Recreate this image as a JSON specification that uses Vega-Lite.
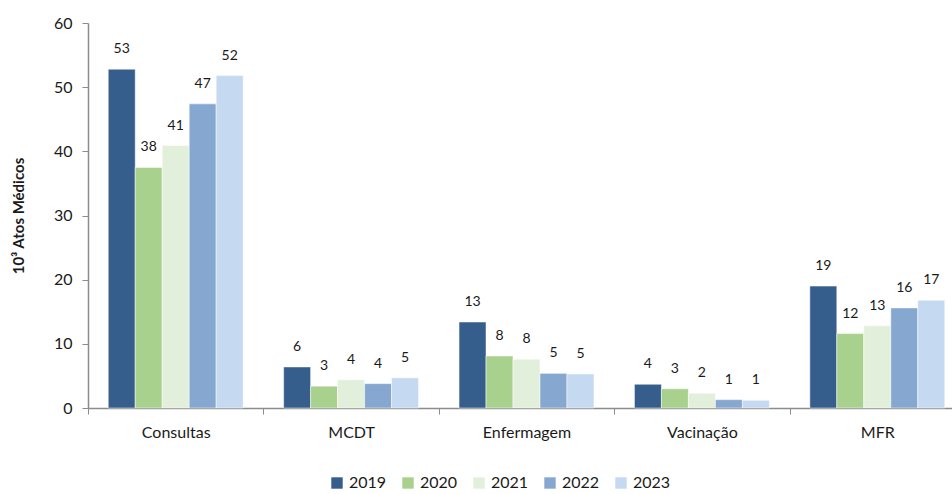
{
  "$schema": "https://vega.github.io/schema/vega-lite/v6.json",
  "width": 864,
  "height": 385,
  "autosize": {"type": "none"},
  "padding": {"left": 88, "top": 23, "right": 0, "bottom": 86},
  "background": "white",
  "config": {
    "view": {"stroke": null},
    "font": "Lato",
    "axis": {"labelFont": "Lato", "titleFont": "Lato", "labelColor": "#1a1a1a", "titleColor": "#1a1a1a", "domainColor": "#8c8c8c", "tickColor": "#8c8c8c", "grid": false}
  },
  "data": {
    "values": [
      {"cat": "Consultas", "year": "2019", "value": 52.8},
      {"cat": "Consultas", "year": "2020", "value": 37.5},
      {"cat": "Consultas", "year": "2021", "value": 40.9},
      {"cat": "Consultas", "year": "2022", "value": 47.4},
      {"cat": "Consultas", "year": "2023", "value": 51.8},
      {"cat": "MCDT", "year": "2019", "value": 6.4},
      {"cat": "MCDT", "year": "2020", "value": 3.4},
      {"cat": "MCDT", "year": "2021", "value": 4.4},
      {"cat": "MCDT", "year": "2022", "value": 3.8},
      {"cat": "MCDT", "year": "2023", "value": 4.7},
      {"cat": "Enfermagem", "year": "2019", "value": 13.4},
      {"cat": "Enfermagem", "year": "2020", "value": 8.1},
      {"cat": "Enfermagem", "year": "2021", "value": 7.6},
      {"cat": "Enfermagem", "year": "2022", "value": 5.4},
      {"cat": "Enfermagem", "year": "2023", "value": 5.3},
      {"cat": "Vacinação", "year": "2019", "value": 3.7},
      {"cat": "Vacinação", "year": "2020", "value": 3.0},
      {"cat": "Vacinação", "year": "2021", "value": 2.3},
      {"cat": "Vacinação", "year": "2022", "value": 1.3},
      {"cat": "Vacinação", "year": "2023", "value": 1.2},
      {"cat": "MFR", "year": "2019", "value": 19.0},
      {"cat": "MFR", "year": "2020", "value": 11.6},
      {"cat": "MFR", "year": "2021", "value": 12.8},
      {"cat": "MFR", "year": "2022", "value": 15.6},
      {"cat": "MFR", "year": "2023", "value": 16.8}
    ]
  },
  "encoding": {
    "x": {
      "field": "cat", "type": "nominal", "sort": null,
      "scale": {"paddingInner": 0, "paddingOuter": 0, "range": [0, 877]},
      "axis": {"title": null, "labelAngle": 0, "labelFontSize": 16, "labelPadding": 10, "tickSize": 6, "tickBand": "extent", "domainWidth": 1.5}
    },
    "xOffset": {
      "field": "year", "type": "nominal",
      "scale": {"paddingInner": 0, "paddingOuter": 0.75}
    },
    "y": {
      "field": "value", "type": "quantitative",
      "scale": {"domain": [0, 60], "nice": false},
      "axis": {"title": "10³ Atos Médicos", "titleFontSize": 15, "titleFontWeight": "bold", "titlePadding": 27, "values": [0, 10, 20, 30, 40, 50, 60], "labelFontSize": 16, "labelPadding": 10, "tickSize": 6, "domainWidth": 1.5}
    }
  },
  "layer": [
    {
      "mark": {"type": "bar", "stroke": "white", "strokeWidth": 0.5},
      "encoding": {
        "color": {
          "field": "year", "type": "nominal",
          "scale": {"domain": ["2019", "2020", "2021", "2022", "2023"], "range": ["#365E8D", "#A9D18E", "#E2EFDA", "#86A8D0", "#C5D9F1"]},
          "legend": {"title": null, "orient": "none", "legendX": 241, "legendY": 452, "direction": "horizontal", "symbolType": "square", "symbolSize": 130, "symbolStrokeWidth": 0, "labelFontSize": 16, "labelFont": "Lato", "labelColor": "#1a1a1a", "columnPadding": 13, "labelOffset": 4}
        }
      }
    },
    {
      "mark": {"type": "text", "baseline": "bottom", "dy": -13, "fontSize": 14, "color": "#1a1a1a"},
      "encoding": {
        "text": {"field": "value", "type": "quantitative", "format": ".0f"}
      }
    }
  ]
}
